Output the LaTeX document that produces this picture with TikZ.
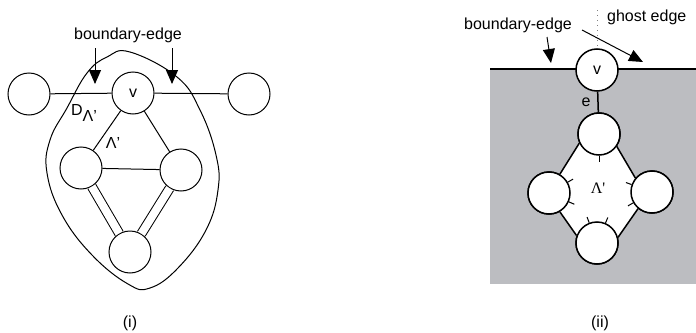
\documentclass[tikz,border=0pt]{standalone}
\usepackage{fontspec}
\setmainfont{Liberation Sans}
\newfontfamily\serifgr{Liberation Serif}
\usetikzlibrary{arrows.meta}
\definecolor{greybg}{RGB}{188,189,193}
\tikzset{
  vtx/.style={circle,draw,fill=white,minimum size=21pt,inner sep=0pt},
  bdarrow/.style={-{Triangle[width=6pt,length=7pt]}},
  tick/.style={line width=0.5pt},
}
\begin{document}
\begin{tikzpicture}[x=0.5pt,y=-0.5pt,font=\fontsize{8}{9.6}\selectfont,line width=0.5pt]
\useasboundingbox (0,0) rectangle (696,332);
% (i)
\draw plot[smooth cycle,tension=0.7] coordinates {(130,52) (177,77) (200,110) (216,155) (218,190) (206,230) (178,268) (150,288) (128,284) (92,255) (62,215) (47,173) (50,140) (67,108) (87,73) (107,57)};
\node[vtx] (l) at (29,94) {};
\node[vtx] (v) at (133,93) {v};
\node[vtx] (r) at (249,94) {};
\node[vtx] (a) at (81,168) {};
\node[vtx] (b) at (181,170) {};
\node[vtx] (c) at (130,252) {};
\draw (l) -- (v) -- (r);
\draw (v) -- (a);
\draw (v) -- (b);
\draw (a) -- (b);
\draw[double,double distance=4pt] (a) -- (c);
\draw[double,double distance=4pt] (b) -- (c);
\node (bd) at (128,35) {boundary-edge};
\coordinate (s1) at (95,48);
\coordinate (t1) at (95,84);
\coordinate (s2) at (172,48);
\coordinate (t2) at (172,84);
\draw[bdarrow] (s1) -- (t1);
\draw[bdarrow] (s2) -- (t2);
\node (dl) at (84,113) {D\raisebox{-3pt}{Λ'}};
\node (lam) at (113,143) {Λ'};
\node (cap1) at (130,323) {(i)};
% (ii)
\fill[greybg] (490,69) rectangle (696,284);
\draw[line width=0.75pt] (490,69) -- (696,69);
\begin{scope}[line width=0.75pt]
\node[vtx] (v2) at (597,70) {v};
\node[vtx] (t) at (599,134) {};
\node[vtx] (lt) at (549,193) {};
\node[vtx] (rt) at (652,192) {};
\node[vtx] (bt) at (597,243) {};
\fill[white] (t.205) -- (lt.60) -- (lt.-60) -- (bt.160) -- (bt.15) -- (rt.-130) -- (rt.140) -- (t.-35) -- cycle;
\draw (t.205) -- (lt.60);
\draw (lt.-60) -- (bt.160);
\draw (bt.15) -- (rt.-130);
\draw (rt.140) -- (t.-35);
\node[vtx] at (t) {};
\node[vtx] at (lt) {};
\node[vtx] at (rt) {};
\node[vtx] at (bt) {};
\draw (v2) -- node[left] {e} (t);
\end{scope}
\draw[tick] (t.-90) -- ++(-90:3pt);
\draw[tick] (lt.30) -- ++(30:3pt);
\draw[tick] (lt.-24) -- ++(-24:3pt);
\draw[tick] (rt.160) -- ++(160:3pt);
\draw[tick] (rt.-150) -- ++(-150:3pt);
\draw[tick] (bt.111) -- ++(111:3pt);
\draw[tick] (bt.67) -- ++(67:3pt);
\node (lam2) at (598,188) {\serifgr Λ'};
\coordinate (g) at (597,10);
\draw[dotted,gray] (g) -- (v2.north);
\node (bd2) at (518,25) {boundary-edge};
\node[right] (ghost) at (600,17) {ghost edge};
\coordinate (s3) at (547,37);
\coordinate (t3) at (551,63);
\coordinate (s4) at (582,30);
\coordinate (t4) at (643,62);
\draw[bdarrow] (s3) -- (t3);
\draw[bdarrow] (s4) -- (t4);
\node (cap2) at (600,323) {(ii)};
\end{tikzpicture}
\end{document}
